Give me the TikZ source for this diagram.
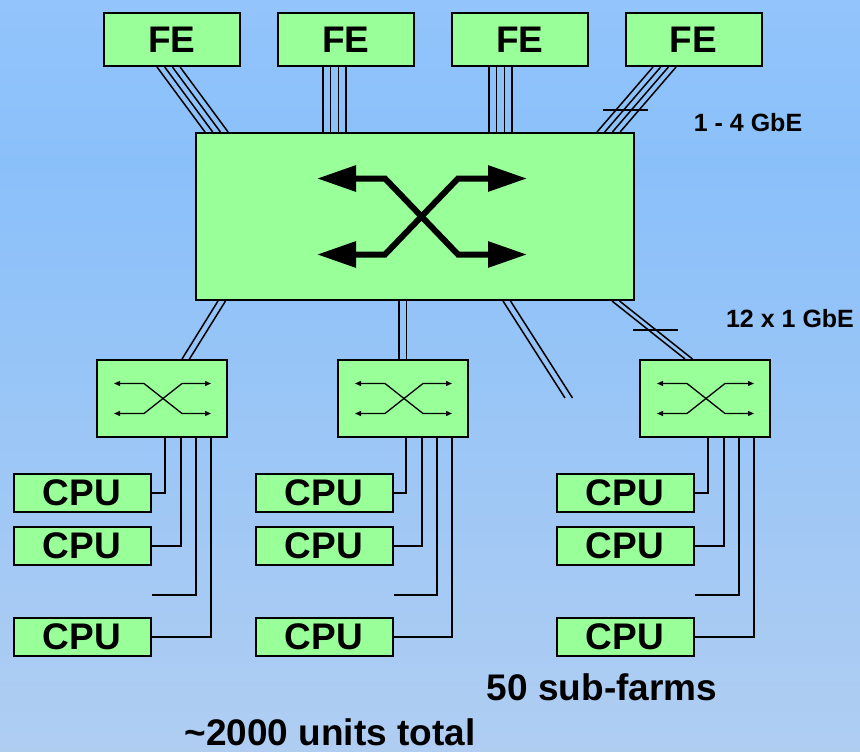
\documentclass[tikz,border=0pt]{standalone}
\usepackage{fontspec}
\setmainfont{Liberation Sans}
\usetikzlibrary{arrows.meta}
\definecolor{boxgreen}{RGB}{153,255,153}
\definecolor{skytop}{RGB}{168,206,255}
\definecolor{skymid}{RGB}{138,192,250}
\definecolor{skybot}{RGB}{200,214,236}
\pgfdeclareverticalshading{farmsky}{100bp}{color(0bp)=(skybot); color(64bp)=(skymid); color(100bp)=(skytop)}

\begin{document}
\begin{tikzpicture}[x=1pt,y=-1pt,
  box/.style={draw,line width=2pt,fill=boxgreen,inner sep=0pt},
  febox/.style={box,minimum width=136pt,minimum height=53pt,font=\fontsize{37}{40}\selectfont\bfseries},
  cpubox/.style={box,minimum width=137pt,minimum height=38pt,font=\fontsize{37}{40}\selectfont\bfseries},
  swbox/.style={box,minimum width=130pt,minimum height=77pt},
  link/.style={line width=1.5pt},
  wire/.style={line width=2pt},
  bigx/.style={line width=6pt,{Triangle[length=39pt,width=25pt]}-{Triangle[length=39pt,width=25pt]}},
  smallx/.style={line width=1.3pt,{Triangle[length=6pt,width=5pt]}-{Triangle[length=6pt,width=5pt]}},
  rate/.style={font=\fontsize{25}{28}\selectfont\bfseries},
  note/.style={font=\fontsize{37}{40}\selectfont\bfseries,anchor=base}]
  \shade[shading=farmsky] (0,0) rectangle (860,752);
  \useasboundingbox (0,0) rectangle (860,752);
  \foreach \n/\x in {1/172,2/346,3/520,4/693.5}
    \node[febox] (fe\n) at (\x,39.5) {FE};
  \node[box,minimum width=438pt,minimum height=167pt] (core) at (415,216.5) {};
  \foreach \n/\x in {1/162,2/403,3/705}
    \node[swbox] (sw\n) at (\x,398.5) {};
  \foreach \n/\x in {1/82,2/324,3/625}
    \foreach \r/\y in {1/493,2/546,3/636.5}
      \node[cpubox] (cpu\n\r) at (\x,\y) {CPU};
  \coordinate (loose) at (565,398);
  \foreach \f/\a/\b in {1/-15/-210,2/-23/-92,3/-31/74,4/-40.5/182}
    \foreach \k in {0,...,3}
      \draw[link] ([xshift={(\a+7.7*\k)*1pt}]fe\f.south) -- ([xshift={(\b+7.7*\k)*1pt}]core.north);
  \foreach \k in {0,7.5}{
    \draw[link] ([xshift={(-197+\k)*1pt}]core.south) -- ([xshift={(20+\k)*1pt}]sw1.north);
    \draw[link] ([xshift={(-16+\k)*1pt}]core.south) -- ([xshift={(-4+\k)*1pt}]sw2.north);
    \draw[link] ([xshift={(88+\k)*1pt}]core.south) -- ([xshift={\k*1pt}]loose);
    \draw[link] ([xshift={(197+\k)*1pt}]core.south) -- ([xshift={(-20+\k)*1pt}]sw3.north);
  }
  \draw[link] (603,110) -- (648,110);
  \draw[link] (633,330) -- (678,330);
  \draw[bigx] ([shift={(-98,-38)}]core.center) -- ++(68,0) -- ++(73,76) -- ++(69,0);
  \draw[bigx] ([shift={(-98,38)}]core.center) -- ++(68,0) -- ++(73,-76) -- ++(69,0);
  \foreach \n in {1,2,3}{
    \draw[smallx] ([shift={(-48,-15)}]sw\n.center) -- ++(30,0) -- ++(38,30) -- ++(29,0);
    \draw[smallx] ([shift={(-48,15)}]sw\n.center) -- ++(30,0) -- ++(38,-30) -- ++(29,0);
    \coordinate (stub\n) at (cpu\n1.east |- 0,595);
    \draw[wire] ([xshift=3pt]sw\n.south) |- (cpu\n1.east);
    \draw[wire] ([xshift=19pt]sw\n.south) |- (cpu\n2.east);
    \draw[wire] ([xshift=34pt]sw\n.south) |- (stub\n);
    \draw[wire] ([xshift=49pt]sw\n.south) |- (cpu\n3.east);
  }
  \node[rate] (rate1) at (748,123) {1 - 4 GbE};
  \node[rate] (rate2) at (790,319) {12 x 1 GbE};
  \node[note] (farms) at (602,700) {50 sub-farms};
  \node[note] (total) at (330,745) {\textasciitilde 2000 units total};
\end{tikzpicture}
\end{document}
